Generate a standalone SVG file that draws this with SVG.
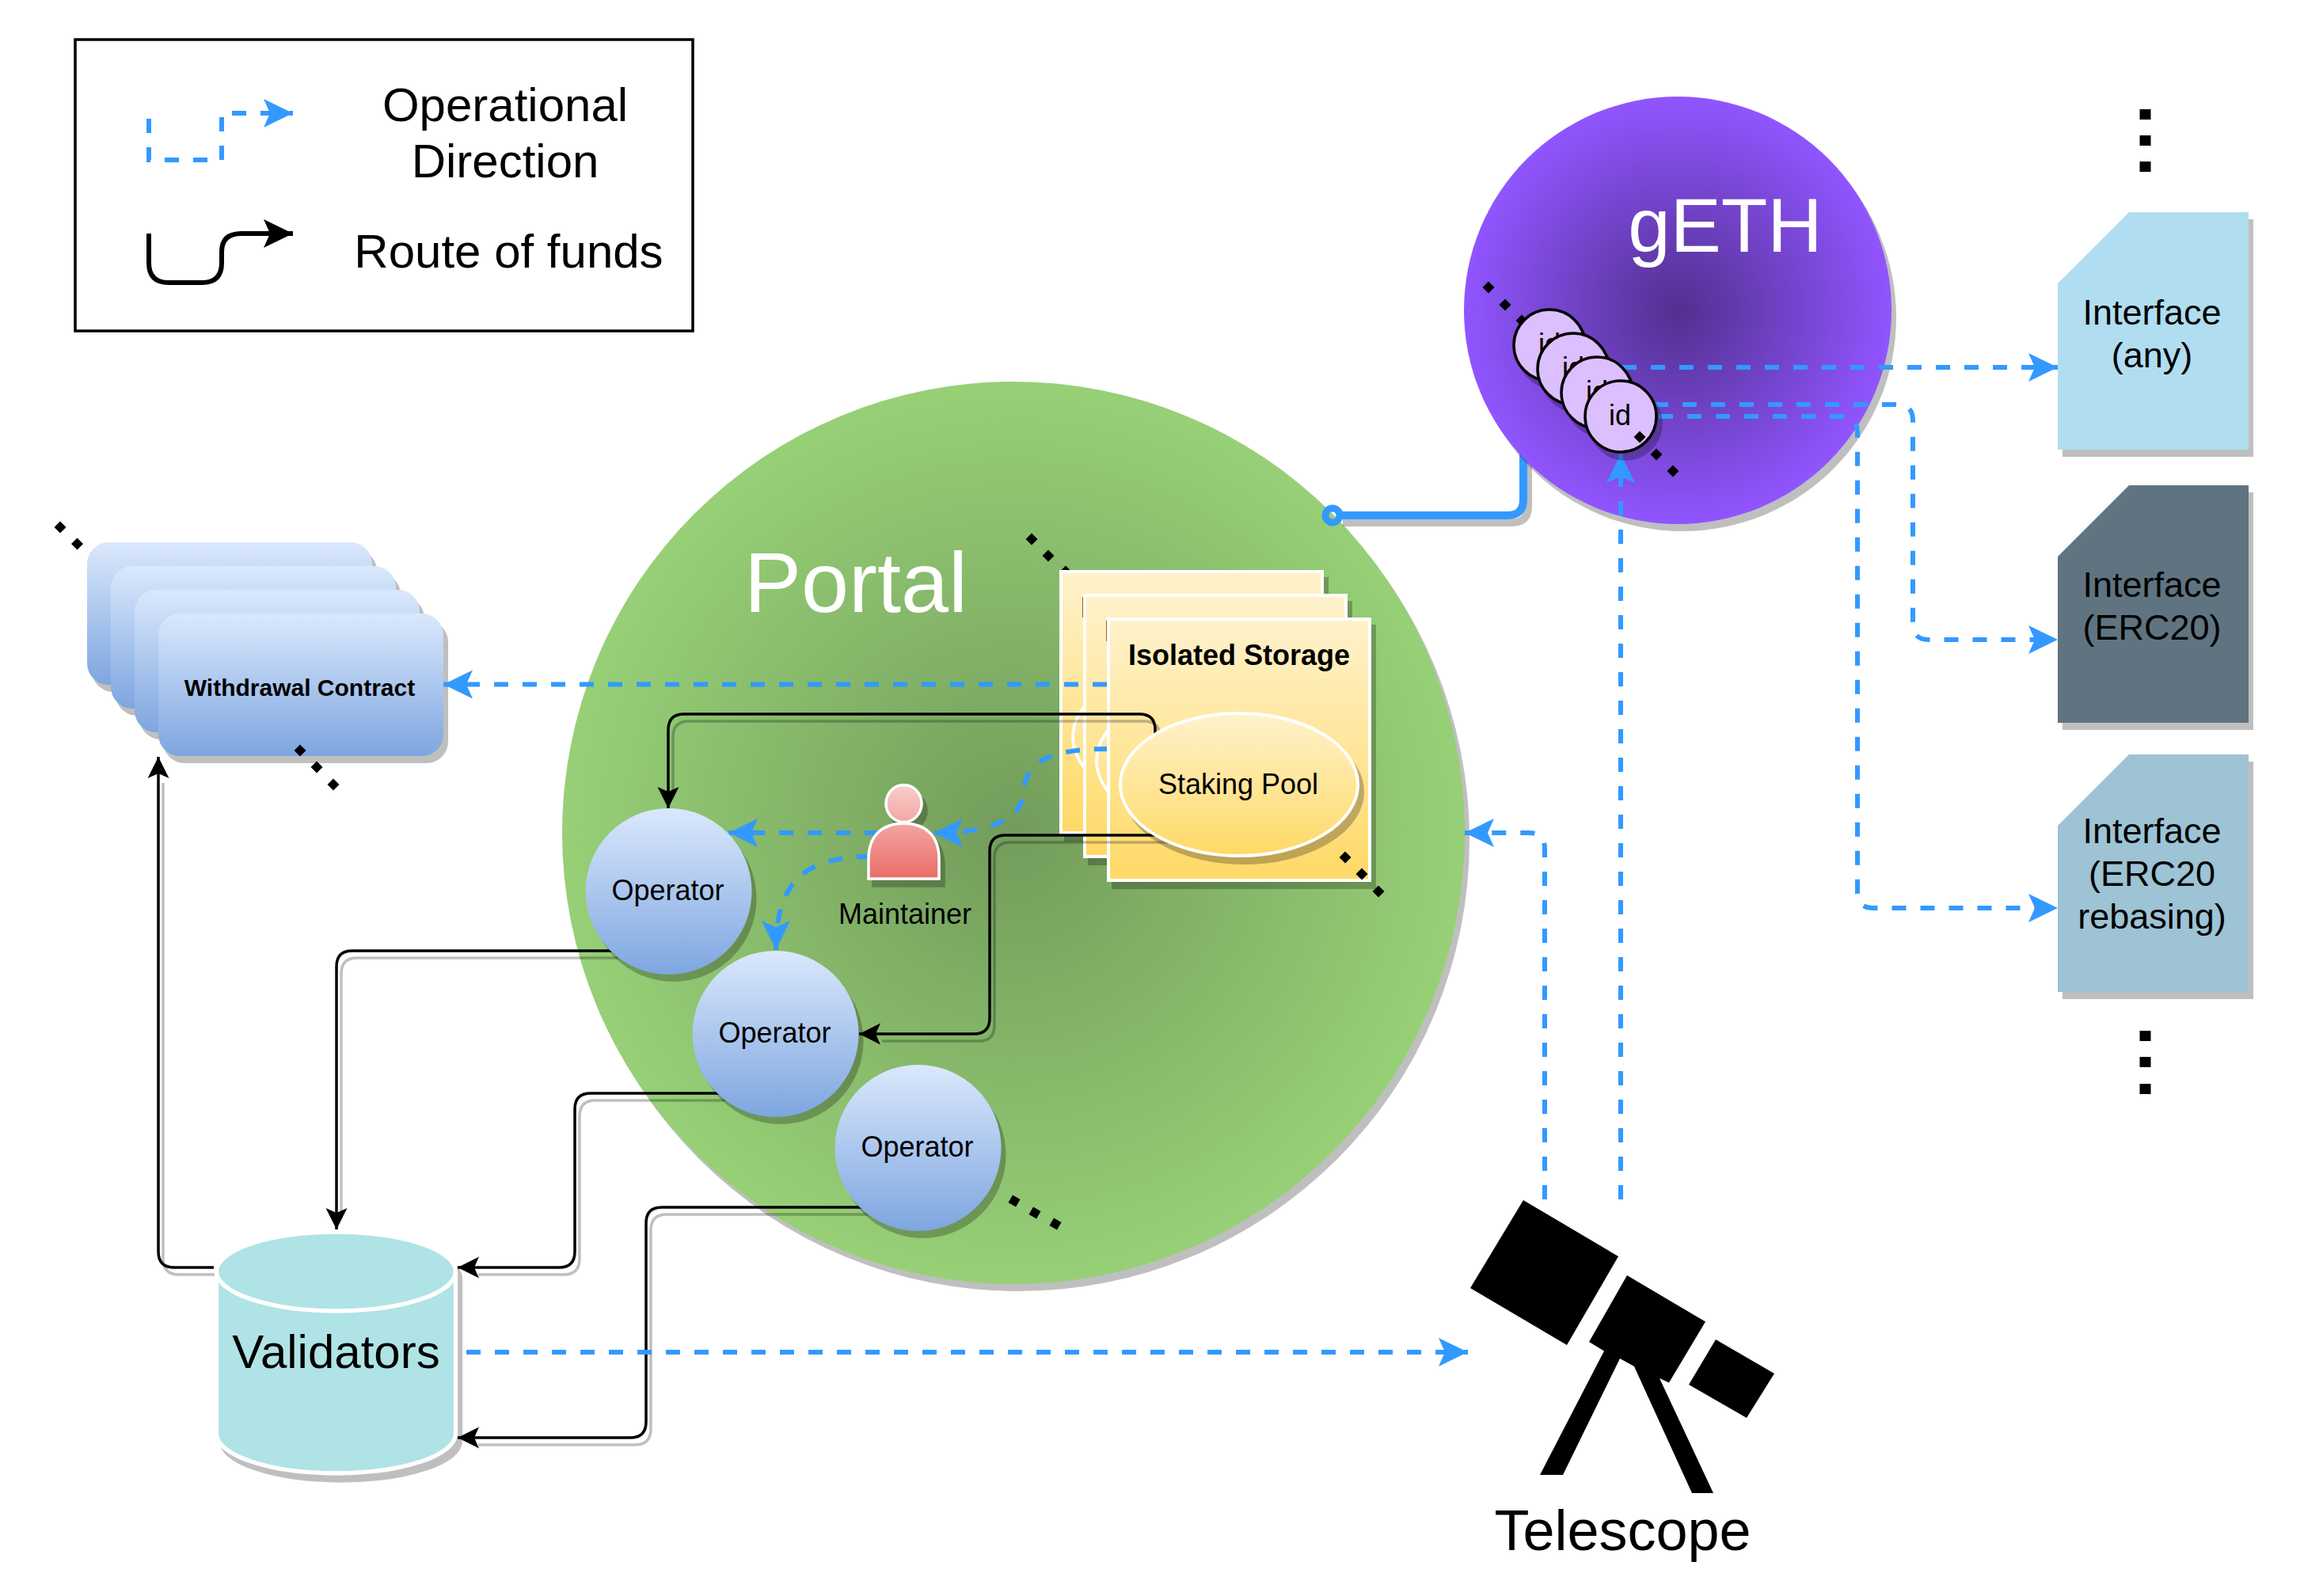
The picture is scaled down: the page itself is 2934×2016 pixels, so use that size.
<svg xmlns="http://www.w3.org/2000/svg" xmlns:xlink="http://www.w3.org/1999/xlink" width="2934" height="2016" viewBox="0 0 2934 2016">
<style>
text{font-family:"Liberation Sans",Arial,sans-serif;fill:#000;text-anchor:middle}
.op{fill:none;stroke:#3399ff;stroke-width:6;stroke-dasharray:18 18;marker-end:url(#ab)}
.fund{fill:none;stroke:#000;stroke-width:3.5;marker-end:url(#ak)}
.fsh{fill:none;stroke:#000;stroke-opacity:.25;stroke-width:3.5}
.f36{font-size:36px}.b{font-weight:bold}
.shd{filter:url(#sh)}
.card{fill:url(#gy);stroke:#fff;stroke-width:4}
.pool{fill:url(#gy);stroke:#fff;stroke-width:4}
.wd{fill:url(#gb)}
.opn{fill:url(#gb)}
.idc{fill:#dcbfff;stroke:#000;stroke-width:3.5}
.if{font-size:45px}
.leg{font-size:60px}
.sliver{text-anchor:start}
</style>
<defs>
<filter id="sh" filterUnits="userSpaceOnUse" x="0" y="0" width="2934" height="2016" color-interpolation-filters="sRGB">
<feColorMatrix in="SourceAlpha" type="matrix" values="0 0 0 0 0 0 0 0 0 0 0 0 0 0 0 0 0 0 0.25 0"/>
<feOffset dx="6" dy="9" result="s"/>
<feMerge><feMergeNode in="s"/><feMergeNode in="SourceGraphic"/></feMerge>
</filter>
<linearGradient id="gy" x1="0" y1="0" x2="0" y2="1"><stop offset="0" stop-color="#fff2cc"/><stop offset="1" stop-color="#ffd966"/></linearGradient>
<linearGradient id="gb" x1="0" y1="0" x2="0" y2="1"><stop offset="0" stop-color="#dae8fc"/><stop offset="1" stop-color="#7ea6e0"/></linearGradient>
<linearGradient id="gr" gradientUnits="userSpaceOnUse" x1="0" y1="991" x2="0" y2="1111"><stop offset="0" stop-color="#f8cecc"/><stop offset="1" stop-color="#ea6b66"/></linearGradient>
<radialGradient id="gp"><stop offset="0" stop-color="#739c5b"/><stop offset="1" stop-color="#97d077"/></radialGradient>
<radialGradient id="gg"><stop offset="0" stop-color="#52308f"/><stop offset="1" stop-color="#9055ff"/></radialGradient>
<marker id="ab" markerUnits="userSpaceOnUse" markerWidth="40" markerHeight="40" viewBox="0 -20 40 40" refX="37" refY="0" orient="auto"><path d="M0,-18 L37,0 L0,18 L8,0 Z" fill="#3399ff"/></marker>
<marker id="ak" markerUnits="userSpaceOnUse" markerWidth="30" markerHeight="30" viewBox="0 -15 30 30" refX="27" refY="0" orient="auto"><path d="M0,-13.5 L27,0 L0,13.5 L6,0 Z" fill="#000"/></marker>
<marker id="akl" markerUnits="userSpaceOnUse" markerWidth="40" markerHeight="40" viewBox="0 -20 40 40" refX="37" refY="0" orient="auto"><path d="M0,-18 L37,0 L0,18 L8,0 Z" fill="#000"/></marker>
<polygon id="dia" points="0,-7.5 7.5,0 0,7.5 -7.5,0" fill="#000"/>
</defs>
<rect width="2934" height="2016" fill="#fff"/>

<g id="legend">
<rect x="95" y="50" width="780" height="368" fill="#fff" stroke="#000" stroke-width="3.5"/>
<path class="op" d="M188,150 V202 H280 V143 H370"/>
<path fill="none" stroke="#000" stroke-width="6" marker-end="url(#akl)" d="M188,295 V332 Q188,357 213,357 H255 Q280,357 280,332 V318 Q280,295 305,295 H370"/>
<text class="leg" x="638" y="153">Operational</text>
<text class="leg" x="638" y="224">Direction</text>
<text class="leg" x="642.500" y="338">Route of funds</text>
</g>

<g id="withdrawal-stack">
<use href="#dia" x="76" y="666"/><use href="#dia" x="97.500" y="687"/>
<rect class="wd shd" x="110" y="685" width="360" height="180" rx="27"/>
<rect class="wd shd" x="140" y="715" width="360" height="180" rx="27"/>
<rect class="wd shd" x="170" y="745" width="360" height="180" rx="27"/>
</g>
<g id="withdrawal-contract">
<rect class="wd shd" x="200" y="775" width="360" height="180" rx="27"/>
<text class="b" font-size="30" x="378.500" y="879">Withdrawal Contract</text>
<use href="#dia" x="379" y="948"/><use href="#dia" x="400" y="969"/><use href="#dia" x="421" y="991"/>
</g>

<g id="portal">
<circle class="shd" cx="1280" cy="1052" r="570" fill="url(#gp)"/>
<text font-size="108" style="fill:#fff" x="1081" y="773">Portal</text>
</g>

<g id="connector-portal-geth" class="connectors">
<path fill="none" stroke="#000" stroke-opacity=".25" stroke-width="10" transform="translate(6,9)" d="M1690,651 H1904 Q1924,651 1924,631 V570"/>
<path fill="none" stroke="#3399ff" stroke-width="10" d="M1692,651 H1904 Q1924,651 1924,631 V570"/>
<circle cx="1683" cy="651" r="9" fill="none" stroke="#3399ff" stroke-width="9"/>
</g>

<g id="geth">
<circle class="shd" cx="2119" cy="392" r="270" fill="url(#gg)"/>
<text font-size="96" style="fill:#fff" x="2179" y="318">gETH</text>
<use href="#dia" x="1880" y="363"/><use href="#dia" x="1901" y="385"/><use href="#dia" x="1922" y="405"/>
</g>

<g id="storage-back">
<use href="#dia" x="1303" y="681"/><use href="#dia" x="1324" y="702"/><use href="#dia" x="1346" y="722"/>
<rect class="card shd" x="1340" y="722" width="330" height="330"/>
<text class="b f36 sliver" x="1365" y="780">I</text>
<ellipse class="pool" cx="1505" cy="931" rx="150" ry="90"/>
<rect class="card shd" x="1370" y="752" width="330" height="330"/>
<text class="b f36 sliver" x="1395" y="810">I</text>
<ellipse class="pool" cx="1535" cy="961" rx="150" ry="90"/>
</g>

<g id="connectors-storage" class="connectors">
<path class="op" d="M1398,864.500 H560"/>
<path class="op" d="M1400,946 C1330,946 1295,960 1293,1000 C1290,1040 1240,1052 1179,1052"/>
</g>

<g id="storage-front">
<rect class="card shd" x="1400" y="782" width="330" height="330"/>
<text class="b f36" x="1565" y="840">Isolated Storage</text>
</g>

<g id="connectors-funds" class="connectors">
<path class="fsh" transform="translate(6,9)" d="M1459,930 V922 Q1459,902 1439,902 H864 Q844,902 844,922 V998"/>
<path class="fund" d="M1459,940 V922 Q1459,902 1439,902 H864 Q844,902 844,922 V1021"/>
<path class="fsh" transform="translate(6,9)" d="M1470,1055 H1270 Q1250,1055 1250,1075 V1286 Q1250,1306 1230,1306 H1108"/>
<path class="fund" d="M1470,1055 H1270 Q1250,1055 1250,1075 V1286 Q1250,1306 1230,1306 H1085"/>
<path class="fsh" transform="translate(6,9)" d="M775,1201 H445 Q425,1201 425,1221 V1530"/>
<path class="fund" d="M775,1201 H445 Q425,1201 425,1221 V1553"/>
<path class="fsh" transform="translate(6,9)" d="M910,1381 H746 Q726,1381 726,1401 V1581 Q726,1601 706,1601 H598"/>
<path class="fund" d="M910,1381 H746 Q726,1381 726,1401 V1581 Q726,1601 706,1601 H578"/>
<path class="fsh" transform="translate(6,9)" d="M1090,1525 H836 Q816,1525 816,1545 V1796 Q816,1816 796,1816 H598"/>
<path class="fund" d="M1090,1525 H836 Q816,1525 816,1545 V1796 Q816,1816 796,1816 H578"/>
<path class="fsh" transform="translate(6,9)" d="M270,1601 H220 Q200,1601 200,1581 V980"/>
<path class="fund" d="M270,1601 H220 Q200,1601 200,1581 V956"/>
</g>

<g id="staking-pool">
<ellipse class="pool shd" cx="1565" cy="991" rx="150" ry="90"/>
<text class="f36" x="1564" y="1003">Staking Pool</text>
<use href="#dia" x="1699" y="1083"/><use href="#dia" x="1720" y="1104"/><use href="#dia" x="1741" y="1126"/>
</g>

<g id="connectors-operational" class="connectors">
<path class="op" d="M2013,464 H2599"/>
<path class="op" d="M2053,511 H2396 Q2416,511 2416,531 V788 Q2416,808 2436,808 H2599"/>
<path class="op" d="M2059,526 H2326 Q2346,526 2346,546 V1127 Q2346,1147 2366,1147 H2599"/>
<path class="op" d="M2047,1515 V573"/>
<path class="op" d="M1951,1515 V1072 Q1951,1052 1931,1052 H1850"/>
<path class="op" d="M589,1708 H1854"/>
<path class="op" d="M1110,1052 H920"/>
<path class="op" d="M1100,1082 C1020,1082 980,1110 980,1200"/>
</g>

<g id="maintainer">
<ellipse class="shd" cx="1141.500" cy="1015" rx="22.500" ry="23.500" fill="url(#gr)" stroke="#fff" stroke-width="3.500"/>
<path class="shd" d="M1097,1110 V1085 C1097,1055 1115,1040 1141.500,1040 C1168,1040 1186,1055 1186,1085 V1110 Z" fill="url(#gr)" stroke="#fff" stroke-width="3.500"/>
<text class="f36" x="1143" y="1167">Maintainer</text>
</g>

<g id="operator-1"><circle class="opn shd" cx="844.500" cy="1126" r="105"/><text class="f36" x="843.500" y="1137">Operator</text></g>
<g id="operator-2"><circle class="opn shd" cx="979.500" cy="1306" r="105"/><text class="f36" x="978.500" y="1317">Operator</text></g>
<g id="operator-3"><circle class="opn shd" cx="1159.500" cy="1450" r="105"/><text class="f36" x="1158.500" y="1461">Operator</text>
<rect x="1275.500" y="1511.500" width="11" height="11" transform="rotate(30 1281 1517)"/>
<rect x="1301.500" y="1526.500" width="11" height="11" transform="rotate(30 1307 1532)"/>
<rect x="1327.500" y="1540.500" width="11" height="11" transform="rotate(30 1333 1546)"/>
</g>

<g id="ids">
<circle class="idc shd" cx="1957" cy="436" r="45"/><text class="f36" x="1957" y="447">id</text>
<circle class="idc shd" cx="1987" cy="466" r="45"/><text class="f36" x="1987" y="477">id</text>
<circle class="idc shd" cx="2017" cy="496" r="45"/><text class="f36" x="2017" y="507">id</text>
<circle class="idc shd" cx="2047" cy="526" r="45"/><text class="f36" x="2046" y="537">id</text>
<use href="#dia" x="2071" y="552"/><use href="#dia" x="2092" y="574"/><use href="#dia" x="2113" y="595"/>
</g>

<g id="interface-any">
<polygon class="shd" points="2689,268 2840,268 2840,568 2599,568 2599,358" fill="#b1ddf0"/>
<text class="if" x="2718" y="410">Interface</text><text class="if" x="2718" y="464">(any)</text>
</g>
<g id="interface-erc20">
<polygon class="shd" points="2689,613 2840,613 2840,913 2599,913 2599,703" fill="#5f7480"/>
<text class="if" x="2718" y="754">Interface</text><text class="if" x="2718" y="808">(ERC20)</text>
</g>
<g id="interface-rebasing">
<polygon class="shd" points="2689,953 2840,953 2840,1253 2599,1253 2599,1043" fill="#9dc3d5"/>
<text class="if" x="2718" y="1065">Interface</text><text class="if" x="2718" y="1119">(ERC20</text><text class="if" x="2718" y="1173">rebasing)</text>
</g>
<g id="ellipsis-top"><rect x="2702.500" y="138" width="14" height="13"/><rect x="2702.500" y="171" width="14" height="13"/><rect x="2702.500" y="204" width="14" height="13"/></g>
<g id="ellipsis-bottom"><rect x="2702.500" y="1302" width="14" height="13"/><rect x="2702.500" y="1335" width="14" height="13"/><rect x="2702.500" y="1369" width="14" height="13"/></g>

<g id="validators">
<path class="shd" d="M273.500,1606 A151,50 0 0 1 575.500,1606 V1811 A151,50 0 0 1 273.500,1811 Z" fill="#b0e3e6" stroke="#fff" stroke-width="5.300"/>
<path d="M273.500,1606 A151,50 0 0 0 575.500,1606" fill="none" stroke="#fff" stroke-width="5.300"/>
<text font-size="60" x="424.500" y="1728">Validators</text>
</g>

<g id="telescope">
<polygon points="1924,1516 2044,1587 1979,1699 1857,1627"/>
<polygon points="2055,1611 2154,1669.500 2108,1746.600 2096,1741 2164,1886 2137,1886 2064,1726 2046,1716 1974,1863 1945,1863 2026,1706.500 2007,1695"/>
<polygon points="2167,1692 2241,1735 2206,1791 2133,1749"/>
<text font-size="72" x="2049.500" y="1958">Telescope</text>
</g>
</svg>
